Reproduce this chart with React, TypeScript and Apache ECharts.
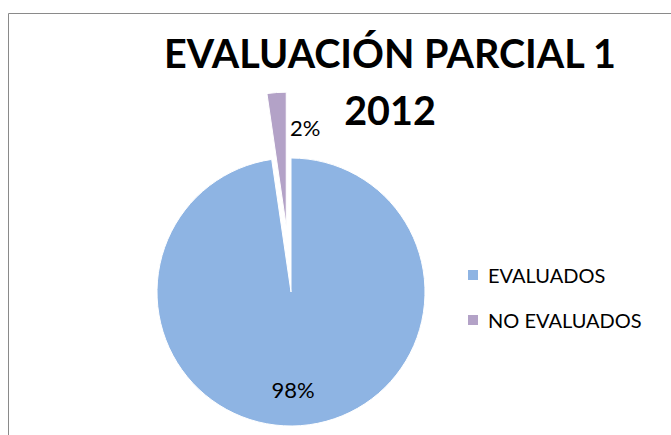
import React, { useEffect, useRef } from "react";
import * as echarts from "echarts";

const categories = ["EVALUADOS", "NO EVALUADOS"];
const values = [97.7, 2.3];
const colors = ["#8EB4E3", "#B3A2C7"];
const titleText = "EVALUACIÓN PARCIAL 1\n2012";

export default function App() {
  const ref = useRef<HTMLDivElement>(null);
  useEffect(() => {
    document.body.style.margin = "0";
    const chart = echarts.init(ref.current!, null, { renderer: "svg" });
    chart.setOption({
      animation: false,
      textStyle: { fontFamily: "Lato" },
      graphic: [
        {
          type: "rect",
          shape: { x: 8.5, y: 13.5, width: 700, height: 500 },
          style: { fill: "none", stroke: "#8a8a8a", lineWidth: 1 },
          silent: true,
        },
      ],
      title: {
        text: titleText,
        left: 385,
        top: 19,
        textAlign: "center",
        textStyle: {
          fontFamily: "Lato",
          fontWeight: "bold",
          fontSize: 39.5,
          lineHeight: 57,
          color: "#000",
        },
      },
      legend: {
        orient: "vertical",
        left: 461,
        top: 260,
        icon: "rect",
        itemWidth: 12,
        itemHeight: 12,
        itemGap: 25,
        data: categories,
        textStyle: {
          fontFamily: "Lato",
          fontSize: 20,
          color: "#000",
          padding: [0, 0, 0, 4],
        },
      },
      series: [
        {
          type: "pie",
          center: [291, 292],
          radius: 134,
          startAngle: 90,
          clockwise: true,
          percentPrecision: 0,
          selectedMode: "single",
          selectedOffset: 66,
          emphasis: { scale: false },
          itemStyle: { borderColor: "#fff", borderWidth: 1 },
          labelLine: { show: false },
          label: {
            show: true,
            position: "inside",
            formatter: "{d}%",
            fontFamily: "Lato",
            fontSize: 22,
            color: "#000",
          },
          labelLayout: (params: any) =>
            params.dataIndex === 0 ? { dx: -3, dy: 28 } : { dx: 24, dy: -29 },
          data: categories.map((name, i) => ({
            name,
            value: values[i],
            selected: i === 1,
            itemStyle: { color: colors[i] },
          })),
        },
      ],
    });
    return () => chart.dispose();
  }, []);
  return <div ref={ref} style={{ width: 671, height: 435 }} />;
}
